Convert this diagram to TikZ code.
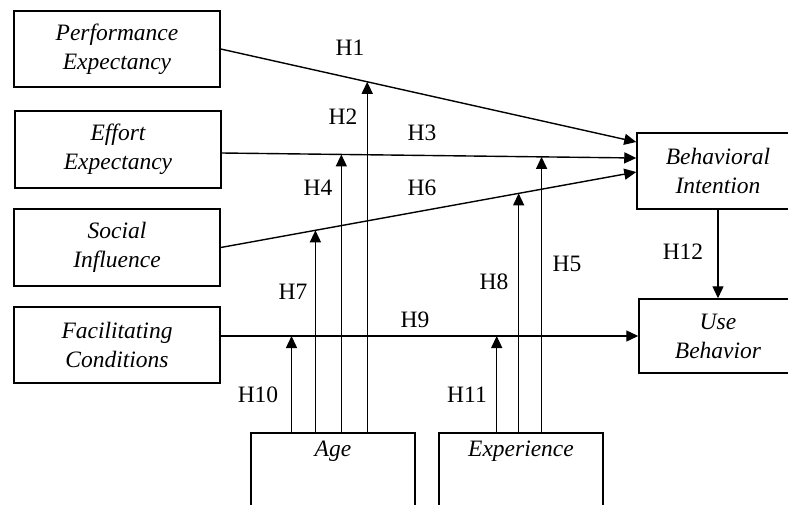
\documentclass[tikz,border=0pt]{standalone}
\usepackage{fontspec}
\setmainfont{Liberation Serif}
\usetikzlibrary{arrows.meta,calc}
\begin{document}
\begin{tikzpicture}[x=1pt,y=-1pt,
  box/.style={draw, line width=1.5pt, rectangle, align=center, inner sep=0pt,
    font=\fontsize{23.5}{29}\selectfont\itshape},
  lbl/.style={inner sep=0pt, font=\fontsize{23.5}{27}\selectfont},
  ln/.style={line width=1.4pt},
  arr/.style={line width=1.4pt, -{Triangle[length=12pt,width=11pt]}}]
\useasboundingbox (0,0) rectangle (788,504);
\clip (0,0) rectangle (788,504);
% boxes
\node[box, minimum width=206pt, minimum height=76pt] (pe) at (117,49) {Performance\\Expectancy};
\node[box, minimum width=206pt, minimum height=77pt] (ee) at (118,149.5) {Effort\\Expectancy};
\node[box, minimum width=206pt, minimum height=77pt] (si) at (117,247.5) {Social\\Influence};
\node[box, minimum width=206pt, minimum height=76pt] (fc) at (117,345) {Facilitating\\Conditions};
\node[box, minimum width=162pt, minimum height=76pt] (bi) at (718,171) {Behavioral\\Intention};
\node[box, minimum width=158pt, minimum height=74pt] (ub) at (718,336) {Use\\Behavior};
\node[box, minimum width=164pt, anchor=north, text height=24pt, text depth=55pt] (age) at (333,432) {Age};
\node[box, minimum width=164pt, anchor=north, text height=24pt, text depth=55pt] (exp) at (521,432) {Experience};
% end points on Behavioral Intention / Use Behavior
\coordinate (a1) at (pe.east);
\coordinate (b1) at ($(bi.west)+(0,-29)$);
\coordinate (a2) at ($(ee.east)+(0,3.5)$);
\coordinate (b2) at ($(bi.west)+(0,-13)$);
\coordinate (a3) at (si.east);
\coordinate (b3) at ($(bi.west)+(0,1)$);
\coordinate (a4) at ($(fc.east)+(0,-9)$);
% main paths
\draw[arr] (a1) -- (b1);
\draw[arr] (a2) -- (b2);
\draw[arr] (a3) -- (b3);
\draw[arr] (a4) -- (ub.west);
\draw[arr] (bi.south) -- (ub.north);
% moderation points
\coordinate (m2) at ($(a1)!0.3525!(b1)$);
\coordinate (m4) at ($(a2)!0.2885!(b2)$);
\coordinate (m5) at ($(a2)!0.7716!(b2)$);
\coordinate (m7) at ($(a3)!0.2278!(b3)$);
\coordinate (m8) at ($(a3)!0.7170!(b3)$);
\coordinate (m10) at ($(a4)!0.1695!(ub.west)$);
\coordinate (m11) at ($(a4)!0.6610!(ub.west)$);
\draw[arr] (m10 |- age.north) -- (m10);
\draw[arr] (m7 |- age.north) -- (m7);
\draw[arr] (m4 |- age.north) -- (m4);
\draw[arr] (m2 |- age.north) -- (m2);
\draw[arr] (m11 |- exp.north) -- (m11);
\draw[arr] (m8 |- exp.north) -- (m8);
\draw[arr] (m5 |- exp.north) -- (m5);
% labels
\node[lbl] (h1) at (350,48) {H1};
\node[lbl] (h2) at (343,117) {H2};
\node[lbl] (h3) at (422,133) {H3};
\node[lbl] (h4) at (318,188) {H4};
\node[lbl] (h6) at (422,188) {H6};
\node[lbl] (h7) at (293,292) {H7};
\node[lbl] (h8) at (494,282) {H8};
\node[lbl] (h5) at (567,264) {H5};
\node[lbl] (h9) at (415,320) {H9};
\node[lbl] (h10) at (258,395) {H10};
\node[lbl] (h11) at (467,395) {H11};
\node[lbl] (h12) at (683,252) {H12};
\end{tikzpicture}
\end{document}
